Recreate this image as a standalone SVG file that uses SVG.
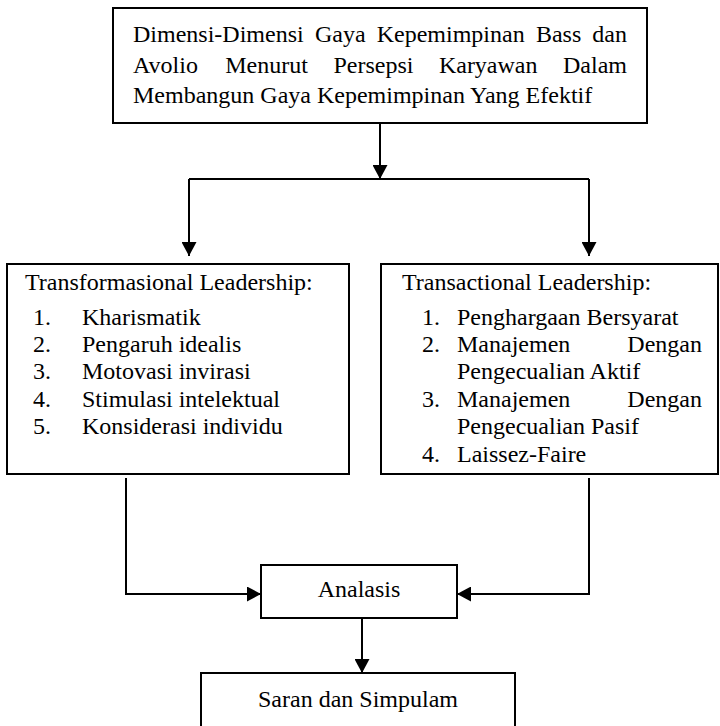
<svg xmlns="http://www.w3.org/2000/svg" width="720" height="726" viewBox="0 0 720 726">
<style>
.box{fill:#fff;stroke:#000;stroke-width:2}
.ln{fill:none;stroke:#000;stroke-width:2}
text{font-family:'Liberation Serif','Times New Roman',Tinos,'Nimbus Roman','DejaVu Serif',serif;font-size:24px;fill:#000}
.c{text-anchor:middle}
.e{text-anchor:end}
</style>
<defs>
<marker id="ah" viewBox="0 0 14 15" refX="14" refY="7.5" markerWidth="14" markerHeight="15" markerUnits="userSpaceOnUse" orient="auto">
<path d="M0,0 L14,7.5 L0,15 z" fill="#000"/>
</marker>
</defs>
<rect width="720" height="726" fill="#fff"/>
<g id="connectors">
<path class="ln" d="M380,123 V179" marker-end="url(#ah)"/>
<path class="ln" d="M189,179 H589"/>
<path class="ln" d="M189,179 V256" marker-end="url(#ah)"/>
<path class="ln" d="M589,179 V256" marker-end="url(#ah)"/>
<path class="ln" d="M126,478 V594 H261" marker-end="url(#ah)"/>
<path class="ln" d="M589,478 V594 H457" marker-end="url(#ah)"/>
<path class="ln" d="M362,618 V673" marker-end="url(#ah)"/>
</g>
<g id="top" font-family="Liberation Serif, serif">
<rect class="box" x="113" y="8" width="534" height="115"/>
<text y="42"><tspan x="133">Dimensi-Dimensi</tspan><tspan x="314.9">Gaya</tspan><tspan x="376.7">Kepemimpinan</tspan><tspan x="535.9">Bass</tspan></text>
<text class="e" x="627" y="42">dan</text>
<text y="73"><tspan x="133">Avolio</tspan><tspan x="225.2">Menurut</tspan><tspan x="333.4">Persepsi</tspan><tspan x="438.9">Karyawan</tspan></text>
<text class="e" x="627" y="73">Dalam</text>
<text x="133" y="103">Membangun Gaya Kepemimpinan Yang Efektif</text>
</g>
<g id="transformasional">
<rect class="box" x="7" y="264" width="342" height="210"/>
<text x="25" y="290">Transformasional Leadership:</text>
<text x="33" y="325">1.</text><text x="82" y="325">Kharismatik</text>
<text x="33" y="352">2.</text><text x="82" y="352">Pengaruh idealis</text>
<text x="33" y="379">3.</text><text x="82" y="379">Motovasi invirasi</text>
<text x="33" y="407">4.</text><text x="82" y="407">Stimulasi intelektual</text>
<text x="33" y="434">5.</text><text x="82" y="434">Konsiderasi individu</text>
</g>
<g id="transactional">
<rect class="box" x="381" y="264" width="337" height="210"/>
<text x="402" y="290">Transactional Leadership:</text>
<text x="422" y="325">1.</text><text x="457" y="325">Penghargaan Bersyarat</text>
<text x="422" y="352">2.</text><text x="457" y="352">Manajemen</text><text class="e" x="702" y="352">Dengan</text>
<text x="457" y="379">Pengecualian Aktif</text>
<text x="422" y="407">3.</text><text x="457" y="407">Manajemen</text><text class="e" x="702" y="407">Dengan</text>
<text x="457" y="434">Pengecualian Pasif</text>
<text x="422" y="462">4.</text><text x="457" y="462">Laissez-Faire</text>
</g>
<g id="analasis">
<rect class="box" x="261" y="565" width="196" height="53"/>
<text class="c" x="359" y="597">Analasis</text>
</g>
<g id="saran">
<rect class="box" x="201" y="673" width="314" height="70"/>
<text class="c" x="358" y="707">Saran dan Simpulam</text>
</g>
</svg>
